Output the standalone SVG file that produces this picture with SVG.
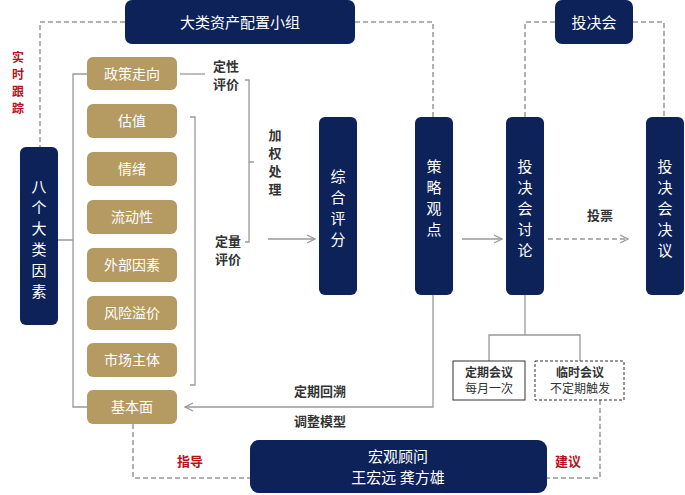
<svg xmlns="http://www.w3.org/2000/svg" width="685" height="495" viewBox="0 0 685 495">
<style>
text{font-family:"Noto Sans CJK SC","Noto Sans",sans-serif}
.navy{fill:#0d2259}
.tan{fill:#b59a62}
.wt{fill:#fff;font-size:15px;text-anchor:middle}
.tt{fill:#fff;font-size:14px;text-anchor:middle}
.lb{fill:#333;font-size:13px;font-weight:bold;text-anchor:middle}
.red{fill:#b5121b;font-size:13px;font-weight:bold;text-anchor:middle}
.rs{fill:#b5121b;font-size:12px;font-weight:bold;text-anchor:middle}
.ln{fill:none;stroke:#999;stroke-width:1.3}
.ds{fill:none;stroke:#999;stroke-width:1.5;stroke-dasharray:5,3}
</style>
<defs><marker id="ar" viewBox="0 0 10 10" refX="9" refY="5" markerWidth="10" markerHeight="10" orient="auto" markerUnits="userSpaceOnUse"><path d="M1,1 L9,5 L1,9" fill="none" stroke="#999" stroke-width="1.3"/></marker></defs>
<rect width="685" height="495" fill="#fff"/>
<g id="connectors">
<path class="ds" d="M125,22 H40 V147"/>
<path class="ds" d="M355,22 H433 V117"/>
<path class="ds" d="M555,22 H525 V117"/>
<path class="ds" d="M633,22 H664 V117"/>
<path class="ln" d="M58,240 H73 M87,74 H73 V407 H87"/>
<path class="ln" d="M180,74 H205"/>
<path class="ln" d="M190,117 H195 V385 H190"/>
<path class="ln" d="M245,80 H249 V242 H245 M249,162 H254"/>
<path class="ln" d="M268,239 H315" marker-end="url(#ar)"/>
<path class="ln" d="M462,239 H502" marker-end="url(#ar)"/>
<path class="ds" d="M548,239 H628" marker-end="url(#ar)"/>
<path class="ln" d="M433,295 V407 H185" marker-end="url(#ar)"/>
<path class="ln" d="M525,295 V335 M489,361 V335 H580 V361"/>
<path class="ds" d="M133,424 V478 H250"/>
<path class="ds" d="M600,400 V478 H547"/>
</g>
<g id="n-group"><rect class="navy" x="125" y="0" width="230" height="44" rx="7"/><text class="wt" x="240" y="28">大类资产配置小组</text></g>
<g id="n-tjh"><rect class="navy" x="555" y="0" width="78" height="44" rx="7"/><text class="wt" x="594" y="28">投决会</text></g>
<g id="n-track"><text class="rs" x="18" y="62">实</text><text class="rs" x="18" y="79">时</text><text class="rs" x="18" y="96">跟</text><text class="rs" x="18" y="113">踪</text></g>
<g id="n-eight"><rect class="navy" x="20" y="147" width="38" height="178" rx="6"/><text class="wt" x="39" y="192">八</text><text class="wt" x="39" y="213">个</text><text class="wt" x="39" y="234">大</text><text class="wt" x="39" y="255">类</text><text class="wt" x="39" y="276">因</text><text class="wt" x="39" y="297">素</text></g>
<g id="n-f1"><rect class="tan" x="87" y="57" width="90" height="33" rx="6"/><text class="tt" x="132" y="79">政策走向</text></g>
<g id="n-f2"><rect class="tan" x="87" y="104" width="90" height="34" rx="6"/><text class="tt" x="132" y="126">估值</text></g>
<g id="n-f3"><rect class="tan" x="87" y="152" width="90" height="34" rx="6"/><text class="tt" x="132" y="174">情绪</text></g>
<g id="n-f4"><rect class="tan" x="87" y="200" width="90" height="34" rx="6"/><text class="tt" x="132" y="222">流动性</text></g>
<g id="n-f5"><rect class="tan" x="87" y="248" width="90" height="34" rx="6"/><text class="tt" x="132" y="270">外部因素</text></g>
<g id="n-f6"><rect class="tan" x="87" y="296" width="90" height="34" rx="6"/><text class="tt" x="132" y="318">风险溢价</text></g>
<g id="n-f7"><rect class="tan" x="87" y="343" width="90" height="34" rx="6"/><text class="tt" x="132" y="365">市场主体</text></g>
<g id="n-f8"><rect class="tan" x="87" y="390" width="90" height="34" rx="6"/><text class="tt" x="132" y="412">基本面</text></g>
<g id="labels">
<text class="lb" x="226" y="71">定性</text><text class="lb" x="226" y="89">评价</text>
<text class="lb" x="228" y="246">定量</text><text class="lb" x="228" y="264">评价</text>
<text class="lb" x="275" y="140">加</text><text class="lb" x="275" y="158">权</text><text class="lb" x="275" y="176">处</text><text class="lb" x="275" y="194">理</text>
<text class="lb" x="600" y="220">投票</text>
<text class="lb" x="320" y="396">定期回溯</text><text class="lb" x="320" y="426">调整模型</text>
<text class="red" x="190" y="466">指导</text><text class="red" x="568" y="466">建议</text>
</g>
<g id="n-score"><rect class="navy" x="319" y="117" width="38" height="178" rx="6"/><text class="wt" x="338" y="182">综</text><text class="wt" x="338" y="203">合</text><text class="wt" x="338" y="224">评</text><text class="wt" x="338" y="245">分</text></g>
<g id="n-view"><rect class="navy" x="415" y="117" width="38" height="178" rx="6"/><text class="wt" x="434" y="172">策</text><text class="wt" x="434" y="193">略</text><text class="wt" x="434" y="214">观</text><text class="wt" x="434" y="235">点</text></g>
<g id="n-disc"><rect class="navy" x="506" y="117" width="38" height="178" rx="6"/><text class="wt" x="525" y="172">投</text><text class="wt" x="525" y="193">决</text><text class="wt" x="525" y="214">会</text><text class="wt" x="525" y="235">讨</text><text class="wt" x="525" y="256">论</text></g>
<g id="n-dec"><rect class="navy" x="646" y="117" width="38" height="178" rx="6"/><text class="wt" x="665" y="172">投</text><text class="wt" x="665" y="193">决</text><text class="wt" x="665" y="214">会</text><text class="wt" x="665" y="235">决</text><text class="wt" x="665" y="256">议</text></g>
<g id="n-reg"><rect x="453" y="361" width="72" height="39" fill="#fff" stroke="#333" stroke-width="1"/><text x="489" y="377" font-size="12" font-weight="bold" fill="#333" text-anchor="middle">定期会议</text><text x="489" y="393" font-size="12" fill="#333" text-anchor="middle">每月一次</text></g>
<g id="n-temp"><rect x="535" y="361" width="89" height="39" fill="#fff" stroke="#333" stroke-width="1" stroke-dasharray="3,2"/><text x="580" y="377" font-size="12" font-weight="bold" fill="#333" text-anchor="middle">临时会议</text><text x="580" y="393" font-size="12" fill="#333" text-anchor="middle">不定期触发</text></g>
<g id="n-macro"><rect class="navy" x="250" y="440" width="297" height="53" rx="9"/><text class="wt" x="398" y="462">宏观顾问</text><text class="wt" x="398" y="483">王宏远  龚方雄</text></g>
</svg>
